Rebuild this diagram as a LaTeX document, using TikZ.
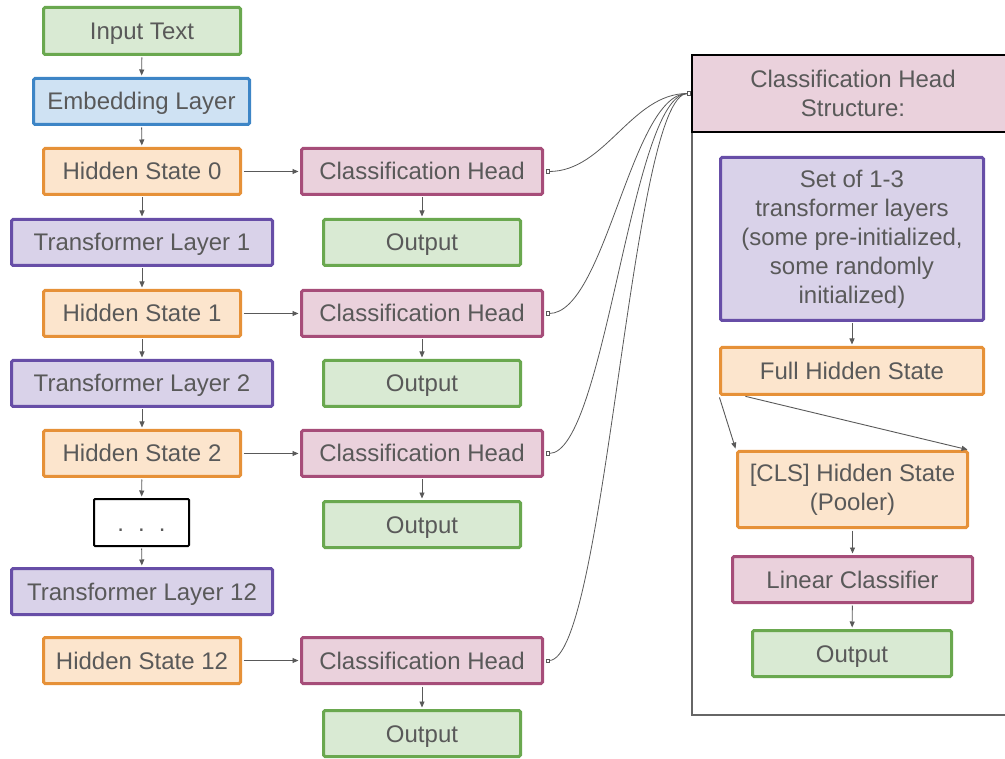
\documentclass[tikz,border=0pt]{standalone}
\usepackage{fontspec}
\setmainfont{Liberation Sans}
\usetikzlibrary{arrows.meta}
\definecolor{txt}{HTML}{595959}
\definecolor{gfill}{HTML}{D9EAD3}\definecolor{gline}{HTML}{6AA84F}
\definecolor{bfill}{HTML}{CFE2F3}\definecolor{bline}{HTML}{3D85C6}
\definecolor{ofill}{HTML}{FCE5CD}\definecolor{oline}{HTML}{E69138}
\definecolor{pfill}{HTML}{D9D2E9}\definecolor{pline}{HTML}{674EA7}
\definecolor{rfill}{HTML}{EAD1DC}\definecolor{rline}{HTML}{A64D79}
\definecolor{frame}{HTML}{666666}
\begin{document}
\begin{tikzpicture}[x=1pt,y=-1pt,
  box/.style={draw, line width=3pt, rounded corners=1.5pt, inner sep=0pt,
    align=center, text=txt, font=\fontsize{24}{29}\selectfont},
  oneline/.style={text height=17pt, text depth=0pt},
  greenbox/.style={box, fill=gfill, draw=gline},
  bluebox/.style={box, fill=bfill, draw=bline},
  orangebox/.style={box, fill=ofill, draw=oline},
  purplebox/.style={box, fill=pfill, draw=pline},
  pinkbox/.style={box, fill=rfill, draw=rline},
  dim/.style 2 args={minimum width=#1pt, minimum height=#2pt},
  link/.style={draw=txt, line width=0.9pt, shorten <=1.5pt, shorten >=1.5pt,
    -{Triangle[length=6pt,width=5pt]}},
  tap/.style={draw=txt, line width=0.8pt,
    {Square[open,length=4pt,width=4pt]}-{Square[open,length=4pt,width=4pt]}}]
\useasboundingbox (0,0) rectangle (1005,759);
\clip (0,0) rectangle (1005,759);

% main stack
\node[greenbox, oneline, dim={197}{47}]  (inp)  at (142,31)    {Input Text};
\node[bluebox, oneline, dim={216}{46}]   (emb)  at (141.5,101.5) {Embedding Layer};
\node[orangebox, oneline, dim={197}{46}] (hs0)  at (142,171.5) {Hidden State 0};
\node[purplebox, oneline, dim={261}{46}] (tl1)  at (142,242.5) {Transformer Layer 1};
\node[orangebox, oneline, dim={197}{46}] (hs1)  at (142,313.5) {Hidden State 1};
\node[purplebox, oneline, dim={261}{46}] (tl2)  at (142,383.5) {Transformer Layer 2};
\node[orangebox, oneline, dim={197}{46}] (hs2)  at (142,453.5) {Hidden State 2};
\node[box, oneline, draw=black, fill=white, line width=2pt, rounded corners=1pt, dim={95}{47}]
      (dots) at (141.5,522.5) {.\hskip14pt.\hskip14pt.};
\node[purplebox, oneline, dim={261}{46}] (tl12) at (142,591.5) {Transformer Layer 12};
\node[orangebox, oneline, dim={197}{46}] (hs12) at (142,660.5) {Hidden State 12};

% classification heads and their outputs
\node[pinkbox, oneline, dim={241}{46}]  (ch0)  at (422,171.5) {Classification Head};
\node[greenbox, oneline, dim={197}{46}] (o0)   at (422,242.5) {Output};
\node[pinkbox, oneline, dim={241}{46}]  (ch1)  at (422,313.5) {Classification Head};
\node[greenbox, oneline, dim={197}{46}] (o1)   at (422,383.5) {Output};
\node[pinkbox, oneline, dim={241}{46}]  (ch2)  at (422,453.5) {Classification Head};
\node[greenbox, oneline, dim={197}{46}] (o2)   at (422,524.5) {Output};
\node[pinkbox, oneline, dim={241}{46}]  (ch12) at (422,660.5) {Classification Head};
\node[greenbox, oneline, dim={197}{46}] (o12)  at (422,733.5) {Output};

% head structure panel
\draw[frame, line width=2pt] (692,55) rectangle (1014,715);
\node[box, fill=rfill, draw=black, line width=1.8pt, rounded corners=0pt, dim={322}{77}]
      (hd) at (853,93.5) {Classification Head\\Structure:};
\node[purplebox, dim={263}{163}] (set)  at (852,239)
      {Set of 1-3\\transformer layers\\(some pre-initialized,\\some randomly\\initialized)};
\node[orangebox, oneline, dim={263}{47}]  (full) at (852,371)   {Full Hidden State};
\node[orangebox, dim={230}{76}]  (cls)  at (852.5,489.5) {[CLS] Hidden State\\(Pooler)};
\node[pinkbox, oneline, dim={240}{46}]    (lin)  at (852.5,579.5) {Linear Classifier};
\node[greenbox, oneline, dim={199}{46}]   (outr) at (852,653.5) {Output};

% flow through the stack
\foreach \a/\b in {inp/emb, emb/hs0, hs0/tl1, tl1/hs1, hs1/tl2, tl2/hs2, hs2/dots, dots/tl12}
  \draw[link] (\a) -- (\b);
\foreach \h/\c/\o in {hs0/ch0/o0, hs1/ch1/o1, hs2/ch2/o2, hs12/ch12/o12} {
  \draw[link] (\h) -- (\c);
  \draw[link] (\c) -- (\o);
  \draw[tap] ([xshift=1.5pt]\c.east) .. controls +(60,0) and +(-60,0) .. (hd.west);
}

% inside the head
\draw[link] (set) -- (full);
\draw[link] (full.south west) -- (cls.north west);
\draw[link] ([xshift=25pt]full.south west) -- (cls.north east);
\draw[link] (cls) -- (lin);
\draw[link] (lin) -- (outr);
\end{tikzpicture}
\end{document}
